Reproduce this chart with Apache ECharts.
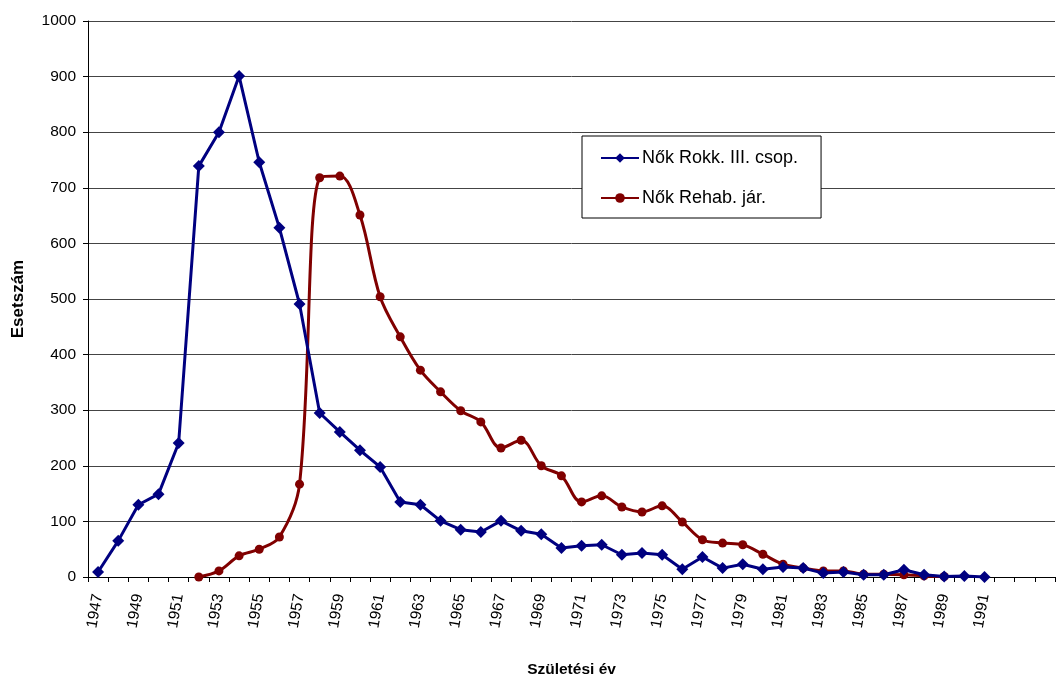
<!DOCTYPE html>
<html>
<head>
<meta charset="utf-8">
<script src="https://cdn.jsdelivr.net/npm/echarts@6/dist/echarts.min.js"></script>
<style>html,body{margin:0;padding:0;background:#fff}#c{width:1058px;height:680px}</style>
</head>
<body>
<div id="c"></div>
<script>
const categories = ['1947','1948','1949','1950','1951','1952','1953','1954','1955','1956','1957','1958','1959','1960','1961','1962','1963','1964','1965','1966','1967','1968','1969','1970','1971','1972','1973','1974','1975','1976','1977','1978','1979','1980','1981','1982','1983','1984','1985','1986','1987','1988','1989','1990','1991','1992','1993','1994'];
const lastLabelYear = 1991;
const rokkValues = [9,65,130,149,241,739,800,901,746,628,491,295,261,228,198,135,130,101,85,81,101,83,77,52,56,58,40,43,40,14,36,16,23,14,18,16,7,9,4,4,13,4,1,2,0];
const rehabValues = [null,null,null,null,null,0,11,38,50,72,167,718,721,651,504,432,372,333,299,279,232,246,200,182,135,146,126,117,128,99,67,61,58,41,23,16,11,11,5,5,4,2,1];
const yTicks = {min:0, max:1000, interval:100};

const chart = echarts.init(document.getElementById('c'));
const font = 'Liberation Sans, Arial, sans-serif';
chart.setOption({
  animation:false,
  textStyle:{fontFamily:font, color:'#000'},
  grid:{left:88, right:3, top:21, bottom:103, containLabel:false, outerBoundsMode:'none'},
  legend:{
    orient:'vertical', left:582, top:136,
    padding:[13,23,11,18], itemGap:22, itemWidth:38, itemHeight:12,
    borderColor:'#000', borderWidth:1, backgroundColor:'#fff',
    textStyle:{fontFamily:font, fontSize:18, color:'#000', padding:[0,0,0,-2]},
    data:['Nők Rokk. III. csop.','Nők Rehab. jár.']
  },
  xAxis:{
    type:'category', data:categories, boundaryGap:true,
    name:'Születési év', nameLocation:'middle', nameGap:85,
    nameTextStyle:{fontFamily:font, fontWeight:'bold', fontSize:15.5, color:'#000'},
    axisLine:{lineStyle:{color:'#000', width:1}},
    axisTick:{show:true, interval:0, length:5, lineStyle:{color:'#000'}},
    axisLabel:{interval:0, rotate:80, fontSize:15.5, color:'#000', fontFamily:font, margin:17,
      formatter:function(v, i){ return (i % 2 === 0 && Number(v) <= lastLabelYear) ? v : ''; }},
    splitLine:{show:false}
  },
  yAxis:{
    type:'value', min:yTicks.min, max:yTicks.max, interval:yTicks.interval,
    name:'Esetszám', nameLocation:'middle', nameGap:61,
    nameTextStyle:{fontFamily:font, fontWeight:'bold', fontSize:17, color:'#000'},
    axisLine:{show:true, lineStyle:{color:'#000'}},
    axisTick:{show:true, length:5, lineStyle:{color:'#000'}},
    axisLabel:{fontSize:15.5, color:'#000', fontFamily:font, margin:12,
      formatter:function(v){ return String(v); }},
    splitLine:{lineStyle:{color:'#444', width:1}}
  },
  series:[
    {
      name:'Nők Rokk. III. csop.', type:'line', data:rokkValues,
      symbol:'diamond', symbolSize:12, showAllSymbol:true,
      lineStyle:{color:'#000080', width:3},
      itemStyle:{color:'#000080'}, z:3
    },
    {
      name:'Nők Rehab. jár.', type:'line', data:rehabValues,
      symbol:'circle', symbolSize:9, smooth:0.35, showAllSymbol:true,
      lineStyle:{color:'#800000', width:3},
      itemStyle:{color:'#800000'}, z:2
    }
  ]
});
</script>
</body>
</html>
